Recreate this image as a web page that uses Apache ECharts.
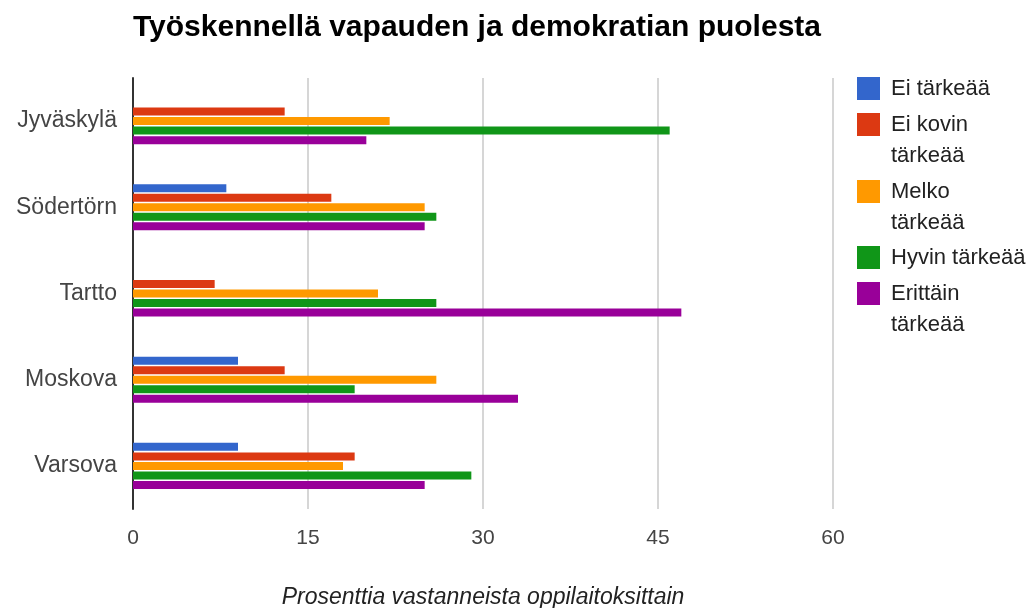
<!DOCTYPE html>
<html>
<head>
<meta charset="utf-8">
<script src="https://cdn.jsdelivr.net/npm/echarts@6/dist/echarts.min.js"></script>
<style>
html, body { margin: 0; padding: 0; background: #fff; }
#chart { width: 1032px; height: 608px; }
</style>
</head>
<body>
<div id="chart"></div>
<script>
// oppilaitokset, ylhäältä alas
const categories = ['Jyväskylä', 'Södertörn', 'Tartto', 'Moskova', 'Varsova']
const seriesNames = ['Ei tärkeää', 'Ei kovin tärkeää', 'Melko tärkeää', 'Hyvin tärkeää', 'Erittäin tärkeää']
// legendan rivitys kuten alkuperäisessä
const legendLabels = ['Ei tärkeää', 'Ei kovin\ntärkeää', 'Melko\ntärkeää', 'Hyvin tärkeää', 'Erittäin\ntärkeää']

const eiTarkeaa = [0, 8, 0, 9, 9]
const eiKovinTarkeaa = [13, 17, 7, 13, 19]
const melkoTarkeaa = [22, 25, 21, 26, 18]
const hyvinTarkeaa = [46, 26, 26, 19, 29]
const erittainTarkeaa = [20, 25, 47, 33, 25]

const xTicks = [0, 15, 30, 45, 60]

const colors = ['#3366cc', '#dc3912', '#ff9900', '#109618', '#990099']
const font = 'Liberation Sans, Arial, sans-serif'

const values = [eiTarkeaa, eiKovinTarkeaa, melkoTarkeaa, hyvinTarkeaa, erittainTarkeaa]
// ikonin yläreuna kullekin legendan riville
const legendIconTops = [77, 113, 180, 246, 282]

const chart = echarts.init(document.getElementById('chart'))

// kaksirivisillä ikoni on ylärivin kohdalla: neliö + näkymätön piste alhaalla
const tallIcon = 'path://M0,0H23V23H0Z M0,54H0.01'

const legends = seriesNames.map(function (name, i) {
  const twoLines = legendLabels[i].indexOf('\n') >= 0
  return {
    data: [name],
    orient: 'vertical',
    left: 857,
    top: legendIconTops[i] - 4,
    padding: 0,
    itemWidth: 23,
    itemHeight: twoLines ? 54 : 23,
    icon: twoLines ? tallIcon : 'rect',
    formatter: function () { return legendLabels[i] },
    textStyle: {
      fontFamily: font,
      fontSize: 22,
      lineHeight: 31,
      color: '#222',
      padding: [0, 0, 0, 6]
    }
  }
})

chart.setOption({
  backgroundColor: '#fff',
  animation: false,
  color: colors,
  title: {
    text: 'Työskennellä vapauden ja demokratian puolesta',
    left: 128,
    top: 8,
    textStyle: {
      fontFamily: font,
      fontSize: 30,
      fontWeight: 'bold',
      color: '#000'
    }
  },
  legend: legends,
  grid: {
    left: 133,
    right: 199,
    top: 78,
    bottom: 99,
    outerBoundsMode: 'none'
  },
  xAxis: {
    type: 'value',
    min: xTicks[0],
    max: xTicks[xTicks.length - 1],
    interval: 15,
    name: 'Prosenttia vastanneista oppilaitoksittain',
    nameLocation: 'middle',
    nameGap: 77,
    nameTextStyle: {
      fontFamily: font,
      fontSize: 23,
      fontStyle: 'italic',
      color: '#222'
    },
    axisLine: { show: false },
    axisTick: { show: false },
    axisLabel: {
      margin: 19,
      fontFamily: font,
      fontSize: 21,
      color: '#444'
    },
    splitLine: {
      lineStyle: { color: '#d6d6d6', width: 2 }
    }
  },
  yAxis: {
    type: 'category',
    inverse: true,
    data: categories,
    axisLine: { lineStyle: { color: '#333', width: 2 } },
    axisTick: { show: false },
    axisLabel: {
      margin: 16,
      fontFamily: font,
      fontSize: 23,
      color: '#444'
    }
  },
  series: seriesNames.map(function (name, i) {
    return {
      name: name,
      type: 'bar',
      data: values[i],
      barWidth: 8,
      barGap: '19%'
    }
  })
})
</script>
</body>
</html>
